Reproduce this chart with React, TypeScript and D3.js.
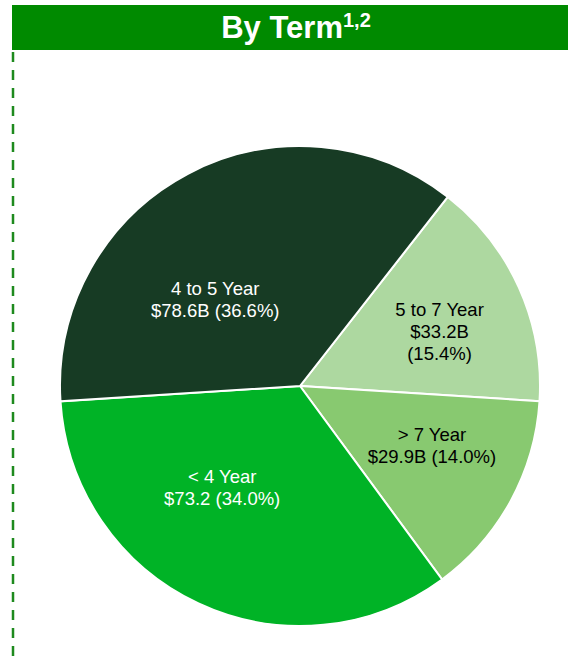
import React from "react";
import * as d3 from "d3";

const terms = ["5 to 7 Year", "> 7 Year", "< 4 Year", "4 to 5 Year"];
const amounts = [33.2, 29.9, 73.2, 78.6];
const valueLabels = [
  ["$33.2B", "(15.4%)"],
  ["$29.9B (14.0%)"],
  ["$73.2 (34.0%)"],
  ["$78.6B (36.6%)"],
];
const colors = ["#ADD8A0", "#88C970", "#00B326", "#173B24"];
const textColors = ["#000", "#000", "#fff", "#fff"];
// label nudges from the arc centroid, like the hand-placed labels in the source
const nudges: [number, number][] = [
  [17, 2],
  [14, -3],
  [-21, -19],
  [-22, 34],
];

const W = 568;
const H = 657;
const cx = 300;
const cy = 386;
const radius = 240;

const App: React.FC = () => {
  const pie = d3
    .pie<number>()
    .sort(null)
    .value((d) => d)
    .startAngle((38 * Math.PI) / 180)
    .endAngle((38 * Math.PI) / 180 + 2 * Math.PI);
  const arcs = pie(amounts);
  const arc = d3.arc<d3.PieArcDatum<number>>().innerRadius(0).outerRadius(radius);
  const labelArc = d3
    .arc<d3.PieArcDatum<number>>()
    .innerRadius(radius * 0.56)
    .outerRadius(radius * 0.56);

  return (
    <svg
      width={W}
      height={H}
      style={{ position: "absolute", left: 0, top: 0 }}
      fontFamily="Liberation Sans, Arial, sans-serif"
    >
      <rect x={0} y={0} width={W} height={H} fill="#fff" />
      <rect x={12} y={5} width={W - 12} height={45} fill="#008A00" />
      <text x={296} y={38} textAnchor="middle" fill="#fff" fontSize={31} fontWeight="bold">
        By Term
        <tspan fontSize={20} dy={-11}>1,2</tspan>
      </text>
      <line
        x1={13}
        x2={13}
        y1={52}
        y2={H}
        stroke="#1E8A1E"
        strokeWidth={2.5}
        strokeDasharray="10 8"
      />
      <g transform={`translate(${cx},${cy})`}>
        {arcs.map((a, i) => (
          <path key={terms[i]} d={arc(a) || ""} fill={colors[i]} stroke="#fff" strokeWidth={2} />
        ))}
        {arcs.map((a, i) => {
          const [cx0, cy0] = labelArc.centroid(a);
          const lx = cx0 + nudges[i][0];
          const ly = cy0 + nudges[i][1];
          const lines = [terms[i], ...valueLabels[i]];
          const lh = 22;
          const y0 = ly - ((lines.length - 1) * lh) / 2;
          return (
            <text
              key={"l" + i}
              x={lx}
              y={y0}
              textAnchor="middle"
              fontSize={18.5}
              fill={textColors[i]}
              dominantBaseline="middle"
            >
              {lines.map((t, j) => (
                <tspan key={j} x={lx} y={y0 + j * lh}>
                  {t}
                </tspan>
              ))}
            </text>
          );
        })}
      </g>
    </svg>
  );
};

export default App;
